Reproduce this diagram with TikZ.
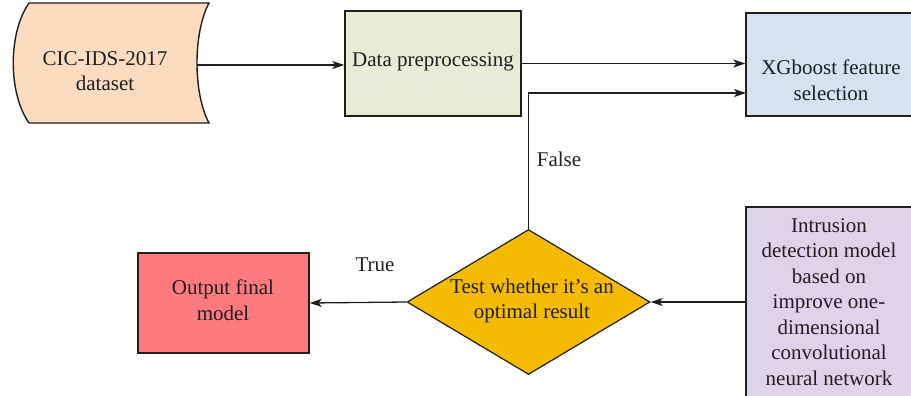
\documentclass[tikz,border=0pt]{standalone}
\usepackage{fontspec}
\setmainfont{Liberation Serif}
\usetikzlibrary{arrows.meta,shapes.geometric}
\definecolor{cpeach}{RGB}{252,220,192}
\definecolor{colive}{RGB}{232,236,212}
\definecolor{cblue}{RGB}{213,226,240}
\definecolor{clav}{RGB}{222,212,234}
\definecolor{cred}{RGB}{255,122,128}
\definecolor{cgold}{RGB}{245,187,0}
\definecolor{cline}{RGB}{30,30,30}
\tikzset{
  box/.style={draw=cline,line width=1.4pt,rectangle,inner sep=0pt},
  txt/.style={align=center,font=\fontsize{21}{25.5}\selectfont,text=black!88,inner sep=0pt},
  arr/.style={draw=cline,line width=1.3pt,-{Stealth[length=12pt,width=8pt,inset=3pt]}},
  lbl/.style={font=\fontsize{21}{25.5}\selectfont,text=black!88,inner sep=0pt}
}
\begin{document}
\begin{tikzpicture}[x=1pt,y=-1pt]
\useasboundingbox (0,0) rectangle (911,396);
\clip (0,0) rectangle (911,396);
% dataset shape
\draw[fill=cpeach,draw=cline,line width=1.4pt]
  (29,3) -- (209,3) .. controls (193,33) and (193,93) .. (209,123)
  -- (29,123) .. controls (8,93) and (8,33) .. (29,3) -- cycle;
\coordinate (ds) at (197,65);
\node[txt] (dstxt) at (105,71) {CIC-IDS-2017\\dataset};
% boxes
\node[box,fill=colive,minimum width=176pt,minimum height=105pt] (prep) at (433,63.5) {};
\node[txt] (preptxt) at (433,62) {Data preprocessing};
\node[box,fill=cblue,minimum width=172pt,minimum height=103pt] (xgb) at (832,64.5) {};
\node[txt] (xgbtxt) at (831,80) {XGboost feature\\selection};
\node[box,fill=clav,minimum width=174pt,minimum height=213pt] (intr) at (833,313.5) {};
\node[txt] (intrtxt) at (829,302) {Intrusion\\detection model\\based on\\improve one-\\dimensional\\convolutional\\neural network};
\node[box,fill=cred,minimum width=171pt,minimum height=100pt] (out) at (223.5,303) {};
\node[txt] (outtxt) at (223,300) {Output final\\model};
\node[diamond,draw=cline,line width=1.2pt,fill=cgold,inner sep=0pt,minimum width=243pt,minimum height=145pt] (dia) at (528.5,302) {};
\node[txt] (diatxt) at (532,301) {Test whether it’s an\\optimal result};
\coordinate (fb) at (746,93);
% connectors
\draw[arr] (ds) -- (ds -| prep.west);
\draw[arr] (prep.east) -- (prep.east -| xgb.west);
\draw[arr] (dia.north) |- (fb);
\draw[arr] (intr.west |- dia.east) -- (dia.east);
\draw[arr] (dia.west) -- (out.east);
% labels
\node[lbl] (false) at (559,159) {False};
\node[lbl] (true) at (375,265) {True};
\end{tikzpicture}
\end{document}
